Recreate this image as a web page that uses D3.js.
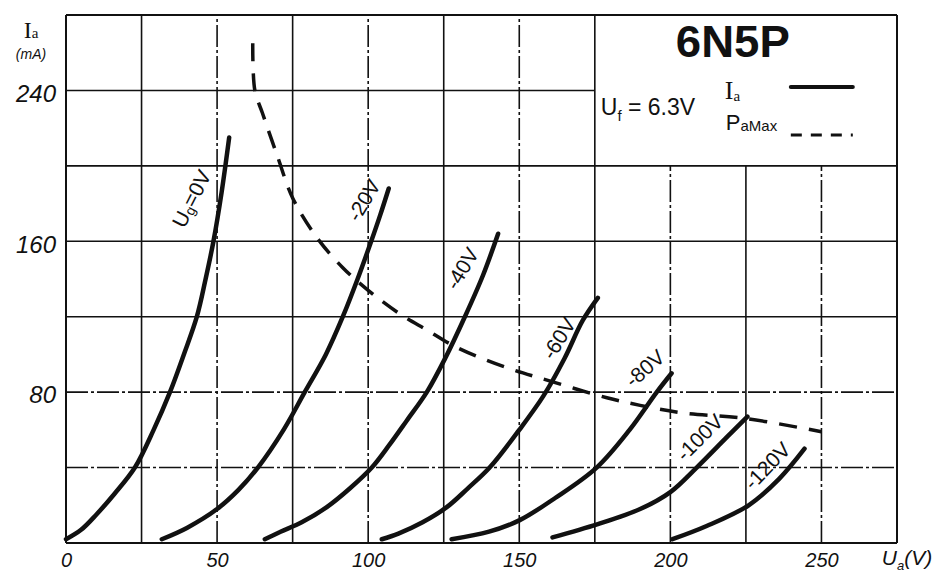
<!DOCTYPE html>
<html>
<head>
<meta charset="utf-8">
<script src="https://cdn.jsdelivr.net/npm/d3@7"></script>
<style>
  html, body { margin: 0; padding: 0; background: #fff; }
  svg { display: block; }
  text { fill: #111; }
</style>
</head>
<body>
<div id="chart"></div>
<script>
// ---------- DATA ----------
// Plate voltage Ua (V) and plate current Ia (mA) for each grid voltage
const gridVoltages = ["0", "-20", "-40", "-60", "-80", "-100", "-120"];
const curveUg0 = [[0,2],[5,7],[10,15],[16,26],[22.8,40],[29,60],[34.4,80],[39,100],[43.3,120],[46.2,140],[48.8,160],[51.5,186],[54,215]];
const curveUg20 = [[31.7,2],[40,8],[50,18],[57,28],[63.5,40],[72,60],[79,80],[86,100],[91.6,120],[96.5,140],[101,160],[104,174],[106.8,188]];
const curveUg40 = [[65.8,2],[71,6],[78,11],[86.3,19],[94,29],[101.2,40],[107,52],[112.8,65],[119.4,80],[125.5,98],[132,120],[138,142],[143,164]];
const curveUg60 = [[104.5,2],[110,5],[118,11],[126,19],[133,29],[140.2,40],[150,60],[158,78],[165,98],[171,118],[176,130]];
const curveUg80 = [[127.6,2],[140,6],[150,12],[162,24],[175.6,40],[186.5,60],[195.5,80],[200.4,90]];
const curveUg100 = [[161,3],[176,10],[190,18],[200,27],[208.7,40],[218.6,56],[225.5,67]];
const curveUg120 = [[200.7,2],[212,9],[225.9,20],[236,34],[244.4,50]];
// Maximum plate dissipation curve
const paMax = [[61.8,265],[62.5,240],[65,228],[70,205],[75,183],[83,162],[91.6,146],[100,134],[110,122],[119.4,113],[129,104],[145.8,93],[160,86],[179,77],[190,73],[204,69],[225,66],[250,59]];
// Axis tick labels and grid
const xTickLabels = [0, 50, 100, 150, 200, 250];
const yTickLabels = [80, 160, 240];
const xGridValues = [0, 25, 50, 75, 100, 125, 150, 175, 200, 225, 250, 275];
const yGridValues = [0, 40, 80, 120, 160, 200, 240, 280];

const curves = [curveUg0, curveUg20, curveUg40, curveUg60, curveUg80, curveUg100, curveUg120];

// ---------- LAYOUT ----------
const W = 942, H = 573;
const SANS = "'Liberation Sans', 'DejaVu Sans', sans-serif";
const SERIF = "'Liberation Serif', 'DejaVu Serif', serif";
const x = d3.scaleLinear().domain([0, 275]).range([66, 897]);
const y = d3.scaleLinear().domain([0, 280]).range([543, 15]);

// label anchor (data coords) and rotation for each curve label
const labelLayout = [
  {v: 43.3, i: 181.7, a: -63},
  {v: 100.5, i: 180.7, a: -59},
  {v: 133, i: 144.6, a: -59},
  {v: 165, i: 107.5, a: -58},
  {v: 193.5, i: 91.6, a: -41},
  {v: 211.6, i: 55, a: -45},
  {v: 234, i: 40, a: -46}
];

const svg = d3.select("#chart").append("svg")
  .attr("width", W).attr("height", H)
  .attr("viewBox", `0 0 ${W} ${H}`)
  .style("font-family", SANS);

svg.append("rect").attr("width", W).attr("height", H).attr("fill", "#fff");

// legend box region: 175..275 V, 200..280 mA (no grid inside)
const boxV0 = 175, boxI0 = 200;

const grid = svg.append("g").attr("stroke", "#111").attr("fill", "none");
xGridValues.forEach(v => {
  const edge = (v === 0 || v === 275);
  const top = (v > boxV0 && v < 275) ? y(boxI0) : y(280);
  grid.append("line")
    .attr("x1", x(v)).attr("x2", x(v))
    .attr("y1", y(0)).attr("y2", top)
    .attr("stroke-width", edge ? 2 : 1.6)
    .attr("stroke-dasharray", edge || v % 50 === 25 ? null : "22,3,3,3");
});
yGridValues.forEach(iv => {
  const edge = (iv === 0 || iv === 280);
  const right = (iv > boxI0 && iv < 280) ? x(boxV0) : x(275);
  grid.append("line")
    .attr("x1", x(0)).attr("x2", right)
    .attr("y1", y(iv)).attr("y2", y(iv))
    .attr("stroke-width", edge ? 2 : 1.6)
    .attr("stroke-dasharray", edge || iv >= 120 ? null : "22,3,3,3");
});

// ---------- CURVES ----------
const line = d3.line()
  .x(d => x(d[0])).y(d => y(d[1]))
  .curve(d3.curveCatmullRom.alpha(0.5));

const curveG = svg.append("g");
curves.forEach(c => {
  curveG.append("path")
    .attr("d", line(c))
    .attr("fill", "none")
    .attr("stroke", "#111")
    .attr("stroke-width", 4.5)
    .attr("stroke-linecap", "round")
    .attr("stroke-linejoin", "round");
});

// Pa max dashed curve
svg.append("path")
  .attr("d", line(paMax))
  .attr("fill", "none")
  .attr("stroke", "#111")
  .attr("stroke-width", 3.5)
  .attr("stroke-dasharray", "18,12");

// ---------- CURVE LABELS ----------
const labG = svg.append("g");
gridVoltages.forEach((gv, k) => {
  const L = labelLayout[k];
  const t = labG.append("text")
    .attr("transform", `translate(${x(L.v) - 6},${y(L.i) - 2}) rotate(${L.a})`)
    .attr("text-anchor", "middle")
    .attr("dominant-baseline", "central")
    .attr("font-size", 21);
  if (k === 0) {
    t.append("tspan").text("U");
    t.append("tspan").attr("font-size", 14).attr("dy", 5).text("g");
    t.append("tspan").attr("dy", -5).text("=" + gv + "V");
  } else {
    t.text(gv + "V");
  }
});

// ---------- AXES ----------
const xAxis = d3.axisBottom(x).tickValues(xTickLabels).tickSize(0).tickPadding(10).tickFormat(d3.format("d"));
const gx = svg.append("g").attr("transform", `translate(0,${y(0)})`).call(xAxis);
gx.select(".domain").remove();
gx.selectAll("text").attr("font-size", 20).attr("font-style", "italic").style("font-family", SANS).attr("fill", "#111");

const yAxis = d3.axisLeft(y).tickValues(yTickLabels).tickSize(0).tickPadding(10).tickFormat(d3.format("d"));
const gy = svg.append("g").attr("transform", `translate(${x(0)},0)`).call(yAxis);
gy.select(".domain").remove();
gy.selectAll("text").attr("font-size", 24).attr("font-style", "italic").style("font-family", SANS).attr("fill", "#111").attr("dy", "0.45em");

// axis titles
const ya = svg.append("text").attr("x", 31).attr("y", 38).attr("text-anchor", "middle").attr("font-size", 24).style("font-family", SERIF);
ya.append("tspan").text("I");
ya.append("tspan").attr("font-size", 15).text("a");
svg.append("text").attr("x", 31).attr("y", 59).attr("text-anchor", "middle").attr("font-size", 14).attr("font-style", "italic").text("(mA)");

const xa = svg.append("text").attr("x", 907).attr("y", 565).attr("text-anchor", "middle").attr("font-size", 21).attr("font-style", "italic");
xa.append("tspan").text("U");
xa.append("tspan").attr("font-size", 13).attr("dy", 5).text("a");
xa.append("tspan").attr("dy", -5).text("(V)");

// ---------- LEGEND BOX ----------
const bx = x(boxV0), by = y(280);
const lg = svg.append("g");
lg.append("text").attr("x", bx + 138).attr("y", by + 42)
  .attr("text-anchor", "middle").attr("font-size", 44).attr("font-weight", "bold")
  .attr("textLength", 114).attr("lengthAdjust", "spacingAndGlyphs").text("6N5P");

const uf = lg.append("text").attr("x", bx + 6).attr("y", by + 100).attr("font-size", 23);
uf.append("tspan").text("U");
uf.append("tspan").attr("font-size", 15).attr("dy", 6).text("f");
uf.append("tspan").attr("dy", -6).text(" = 6.3V");

const ia = lg.append("text").attr("x", bx + 130).attr("y", by + 84).attr("font-size", 26).style("font-family", SERIF);
ia.append("tspan").text("I");
ia.append("tspan").attr("font-size", 15).attr("dy", 2).text("a");
lg.append("line").attr("x1", bx + 196).attr("x2", bx + 258).attr("y1", by + 72).attr("y2", by + 72)
  .attr("stroke", "#111").attr("stroke-width", 4).attr("stroke-linecap", "round");

const pa = lg.append("text").attr("x", bx + 131).attr("y", by + 115).attr("font-size", 22);
pa.append("tspan").text("P");
pa.append("tspan").attr("font-size", 15).attr("dy", 1).text("aMax");
lg.append("line").attr("x1", bx + 196).attr("x2", bx + 258).attr("y1", by + 120).attr("y2", by + 120)
  .attr("stroke", "#111").attr("stroke-width", 3).attr("stroke-dasharray", "11,9");
</script>
</body>
</html>
